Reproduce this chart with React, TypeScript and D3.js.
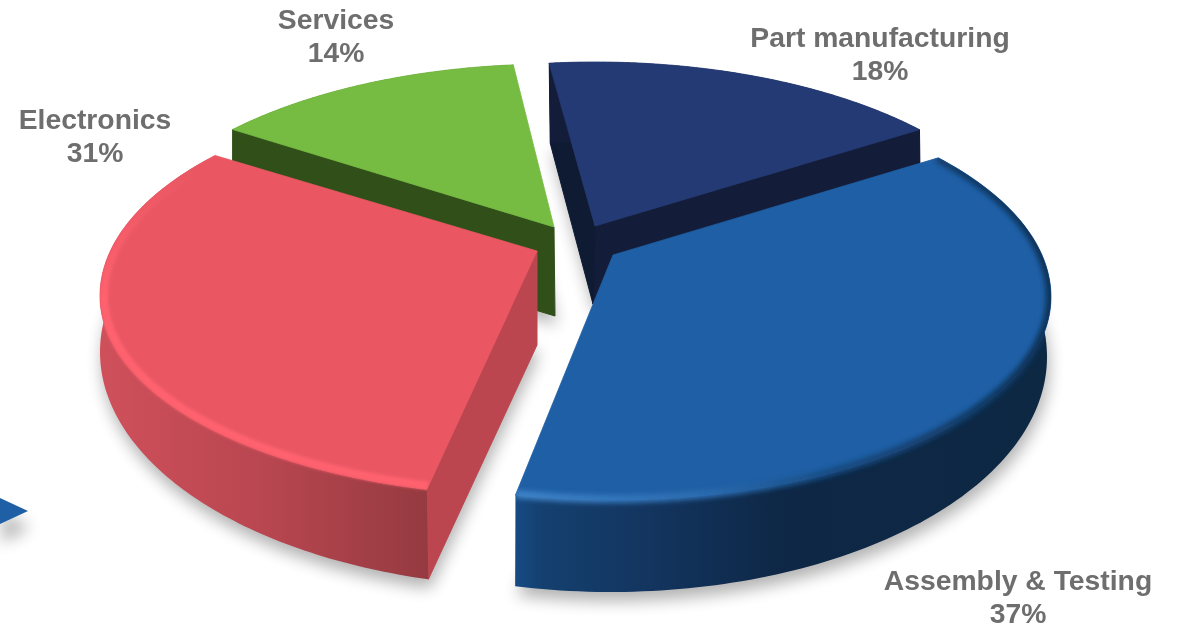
import React from "react";
import * as d3 from "d3";

const categories = ["Part manufacturing", "Assembly & Testing", "Electronics", "Services"];
const shares = [18, 37, 31, 14];

// perspective: where each pie boundary lands on the drawn ellipse (degrees clockwise from top)
const boundaryDeg = [0, 64.8, 198, 309.6, 360];
const viewDeg = [-6, 48, 193, 313, 354];

type Ell = { cx: number; cy: number; rx: number; ry: number; ryLow?: number };
type Geo = {
  top: Ell; base: Ell; apex: [number, number]; apexBase: [number, number];
  adj: [number, number];
  face: string; wall: string; cutStart?: string; cutEnd?: string;
};
const geometry: Geo[] = [
  { top: { cx: 595, cy: 268, rx: 438, ry: 206 }, base: { cx: 596, cy: 348, rx: 438, ry: 206 }, adj: [0, -0.2],
    apex: [595, 226], apexBase: [593, 304], face: "#243a74", wall: "#131d3a", cutStart: "#0f1a33", cutEnd: "#131d3a" },
  { top: { cx: 612, cy: 297, rx: 439, ry: 208, ryLow: 203 }, base: { cx: 611, cy: 357, rx: 436, ry: 235 }, adj: [0, -0.3],
    apex: [613, 255], apexBase: [613, 340], face: "#1f5fa5", wall: "url(#wallBlue)" },
  { top: { cx: 538, cy: 296, rx: 438, ry: 208, ryLow: 200 }, base: { cx: 540, cy: 352, rx: 440, ry: 235 }, adj: [1.7, -0.5],
    apex: [537, 251], apexBase: [537, 345], face: "#ea5763", wall: "url(#wallRed)", cutStart: "#bc464f" },
  { top: { cx: 553, cy: 270, rx: 438, ry: 206 }, base: { cx: 553, cy: 359, rx: 438, ry: 206 }, adj: [0, 0.8],
    apex: [554, 227], apexBase: [555, 316], face: "#76bc43", wall: "#304f19", cutStart: "#304f19" },
];

const labelLayout = [
  { x: 880, y: 47 }, { x: 1018, y: 590 }, { x: 95, y: 129 }, { x: 336, y: 29 },
];

const pie = d3.pie<number>().sort(null)(shares);
const warp = d3.scaleLinear().domain(boundaryDeg).range(viewDeg);
const toDeg = (r: number) => (r * 180) / Math.PI;
const line = d3.line();

const ptAt = (e: Ell, deg: number, inset = 0): [number, number] => {
  const a = (deg * Math.PI) / 180;
  const c = Math.cos(a);
  const ry = c < 0 && e.ryLow ? e.ryLow : e.ry;
  return [e.cx + (e.rx - inset) * Math.sin(a), e.cy - (ry - inset) * c];
};
const arcPts = (e: Ell, a0: number, a1: number, inset = 0) =>
  d3.range(0, 121).map((i) => ptAt(e, a0 + ((a1 - a0) * i) / 120, inset));

const slices = pie.map((p, i) => {
  const g = geometry[i];
  const a0 = warp(toDeg(p.startAngle)) + g.adj[0];
  const a1 = warp(toDeg(p.endAngle)) + g.adj[1];
  const topArc = arcPts(g.top, a0, a1);
  const baseArc = arcPts(g.base, a0, a1);
  return {
    g, a0, a1, i,
    face: line([g.apex, ...topArc])! + "Z",
    wall: line([...topArc, ...baseArc.slice().reverse()])! + "Z",
    base: line([g.apexBase, ...baseArc])! + "Z",
    cutStart: line([g.apex, topArc[0], baseArc[0], g.apexBase])! + "Z",
    cutEnd: line([g.apex, topArc[120], baseArc[120], g.apexBase])! + "Z",
  };
});

const [navy, blue, red, green] = slices;
const rim = (s: typeof navy, a0: number, a1: number, inset: number) => line(arcPts(s.g.top, a0, a1, inset))!;

const Slice = ({ s }: { s: typeof navy }) => (
  <g strokeLinejoin="round">
    {s.g.cutEnd && <path d={s.cutEnd} fill={s.g.cutEnd} stroke={s.g.cutEnd} strokeWidth={1} />}
    {s.g.cutStart && <path d={s.cutStart} fill={s.g.cutStart} stroke={s.g.cutStart} strokeWidth={1} />}
    <path d={s.wall} fill={s.g.wall} />
    <path d={s.face} fill={s.g.face} stroke={s.g.face} strokeWidth={0.8} />
  </g>
);

export default function App() {
  return (
    <svg width={1180} height={626} viewBox="0 0 1180 626"
      style={{ position: "absolute", left: 0, top: 0, display: "block" }}>
      <defs>
        <filter id="soft" x="-20%" y="-20%" width="140%" height="140%"><feGaussianBlur stdDeviation="8" /></filter>
        <filter id="rim4" x="-20%" y="-20%" width="140%" height="140%"><feGaussianBlur stdDeviation="2.5" /></filter>
        <filter id="rim2" x="-20%" y="-20%" width="140%" height="140%"><feGaussianBlur stdDeviation="1.8" /></filter>
        <linearGradient id="wallBlue" gradientUnits="userSpaceOnUse" x1="515" y1="0" x2="1050" y2="0">
          <stop offset="0" stopColor="#174a84" />
          <stop offset="0.05" stopColor="#14406f" />
          <stop offset="0.25" stopColor="#13355f" />
          <stop offset="0.5" stopColor="#0e2746" />
          <stop offset="1" stopColor="#0d2843" />
        </linearGradient>
        <linearGradient id="wallRed" gradientUnits="userSpaceOnUse" x1="100" y1="0" x2="432" y2="0">
          <stop offset="0" stopColor="#cf505b" />
          <stop offset="0.5" stopColor="#b84650" />
          <stop offset="1" stopColor="#943a40" />
        </linearGradient>
        <linearGradient id="rimRed" gradientUnits="userSpaceOnUse" x1="0" y1="170" x2="0" y2="300">
          <stop offset="0" stopColor="#ff626e" stopOpacity="0" />
          <stop offset="1" stopColor="#ff626e" />
        </linearGradient>
        <linearGradient id="rimBlue" gradientUnits="userSpaceOnUse" x1="515" y1="0" x2="1050" y2="0">
          <stop offset="0" stopColor="#3f83c8" />
          <stop offset="0.35" stopColor="#2c6cb0" />
          <stop offset="0.6" stopColor="#154a80" />
          <stop offset="1" stopColor="#0f3054" />
        </linearGradient>
        <clipPath id="clipBlue"><path d={blue.face} /><path d={blue.wall} /></clipPath>
        <clipPath id="clipRed"><path d={red.face} /><path d={red.wall} /></clipPath>
      </defs>

      <g filter="url(#soft)" fill="#000" opacity={0.3} transform="translate(2,9)">
        {slices.map((s) => <path key={s.i} d={s.base} />)}
        <path d={line([[0, 504], [28, 518], [0, 534]])! + "Z"} />
      </g>

      <Slice s={navy} />
      <Slice s={green} />
      <Slice s={red} />
      <g clipPath="url(#clipRed)">
        <path d={rim(red, red.a0, red.a1, 4)} fill="none" stroke="url(#rimRed)" strokeWidth={8} filter="url(#rim2)" />
      </g>
      <Slice s={blue} />
      <g clipPath="url(#clipBlue)">
        <path d={rim(blue, blue.a0, blue.a1, 1)} fill="none" stroke="url(#rimBlue)" strokeWidth={8} filter="url(#rim4)" />
      </g>

      <path d={line([[0, 498], [28, 511], [0, 524]])! + "Z"} fill="#1f5fa5" />

      <g fontFamily="'Liberation Sans', Arial, sans-serif" fontWeight="700" fontSize={28.3} fill="#6e6e6e" textAnchor="middle" opacity={0.999}>
        {categories.map((c, i) => (
          <text key={c} x={labelLayout[i].x} y={labelLayout[i].y}>
            <tspan x={labelLayout[i].x}>{c}</tspan>
            <tspan x={labelLayout[i].x} dy={33}>{shares[i]}%</tspan>
          </text>
        ))}
      </g>
    </svg>
  );
}
